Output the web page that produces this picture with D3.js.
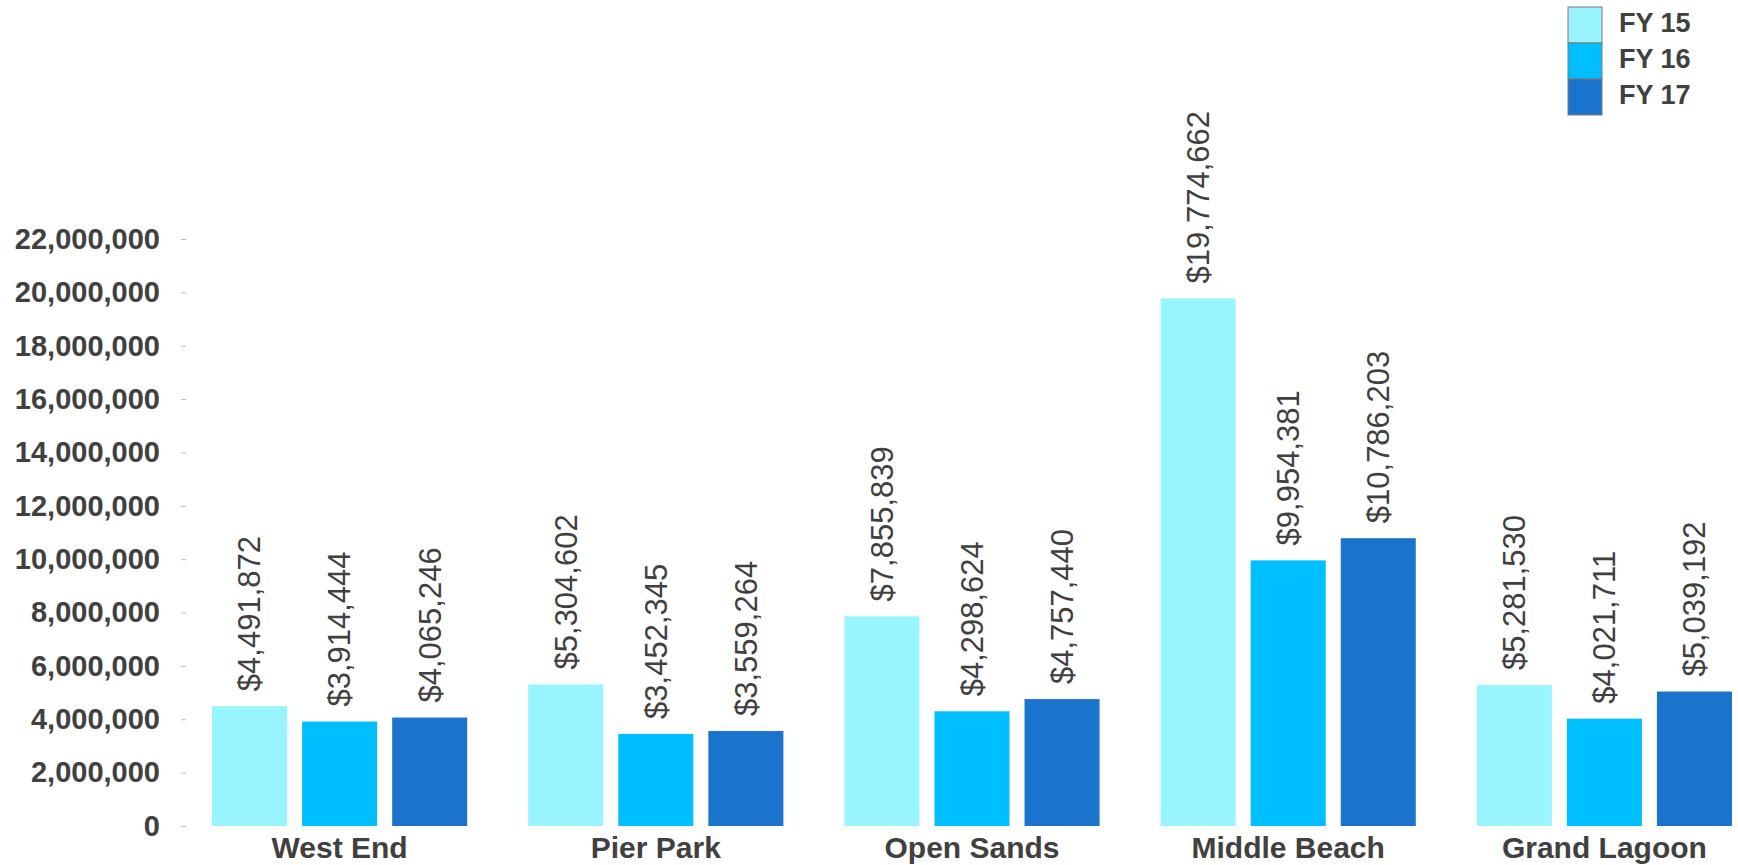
<!DOCTYPE html>
<html>
<head>
<meta charset="utf-8">
<script src="https://cdn.jsdelivr.net/npm/d3@7"></script>
<style>
  html, body { margin: 0; padding: 0; background: #fff; }
  svg text { font-family: "Liberation Sans", Arial, sans-serif; fill: #404040; }
</style>
</head>
<body>
<div id="chart-container"></div>
<script>
// Revenue per beach area, three fiscal years
const areas = ["West End", "Pier Park", "Open Sands", "Middle Beach", "Grand Lagoon"];
const series = ["FY 15", "FY 16", "FY 17"];
const fy15 = [4491872, 5304602, 7855839, 19774662, 5281530];
const fy16 = [3914444, 3452345, 4298624, 9954381, 4021711];
const fy17 = [4065246, 3559264, 4757440, 10786203, 5039192];
const colors = ["#98F4FF", "#00BFFF", "#1A74CD"];
const yTicks = [0, 2000000, 4000000, 6000000, 8000000, 10000000, 12000000,
                14000000, 16000000, 18000000, 20000000, 22000000];

const values = [fy15, fy16, fy17];
const rows = areas.map((a, i) => ({
    area: a,
    bars: series.map((s, j) => ({ key: s, value: values[j][i], color: colors[j] }))
}));

const width = 1738, height = 865;

const svg = d3.select("#chart-container").append("svg")
    .attr("width", width)
    .attr("height", height);

// Scales
const x0 = d3.scaleBand()
    .domain(areas)
    .range([182, 1762])
    .paddingInner(0.193)
    .paddingOuter(0.095);

const x1 = d3.scaleBand()
    .domain(series)
    .range([0, x0.bandwidth()])
    .paddingInner(0.1667)
    .paddingOuter(0);

const y = d3.scaleLinear()
    .domain([0, 22000000])
    .range([826, 239]);

// Y axis: small grey ticks, no domain line
const yAxis = svg.append("g")
    .attr("transform", "translate(186,0)")
    .call(d3.axisLeft(y).tickValues(yTicks).tickSize(5).tickPadding(21)
        .tickFormat(d3.format(",")));
yAxis.select(".domain").remove();
yAxis.selectAll(".tick line").attr("stroke", "#bbbbbb");
yAxis.selectAll(".tick text")
    .attr("font-size", 29)
    .attr("font-weight", "bold")
    .style("font-family", "'Liberation Sans', Arial, sans-serif")
    .attr("fill", "#404040");

// X axis: category names only
const xAxis = svg.append("g")
    .attr("transform", "translate(0,826)")
    .call(d3.axisBottom(x0).tickSize(0).tickPadding(11));
xAxis.select(".domain").remove();
xAxis.selectAll(".tick text")
    .attr("font-size", 30)
    .attr("font-weight", "bold")
    .style("font-family", "'Liberation Sans', Arial, sans-serif")
    .attr("fill", "#404040");

// Grouped bars
const groups = svg.selectAll(".group")
    .data(rows)
    .enter().append("g")
    .attr("class", "group")
    .attr("transform", d => `translate(${x0(d.area)},0)`);

groups.selectAll("rect")
    .data(d => d.bars)
    .enter().append("rect")
    .attr("x", d => x1(d.key))
    .attr("y", d => y(d.value))
    .attr("width", x1.bandwidth())
    .attr("height", d => y(0) - y(d.value))
    .attr("fill", d => d.color);

// Rotated value labels above each bar
const money = v => "$" + d3.format(",")(v);
groups.selectAll(".val")
    .data(d => d.bars)
    .enter().append("text")
    .attr("class", "val")
    .attr("transform", d => `translate(${x1(d.key) + x1.bandwidth() / 2},${y(d.value) - 15}) rotate(-90)`)
    .attr("dy", "0.35em")
    .attr("text-anchor", "start")
    .attr("font-size", 31)
    .text(d => money(d.value));

// Legend, stacked swatches top right
const legend = svg.append("g").attr("transform", "translate(1568,7)");
const ly = d3.scaleBand().domain(series).range([0, 108]);

legend.selectAll("rect")
    .data(series)
    .enter().append("rect")
    .attr("x", 0)
    .attr("y", d => ly(d))
    .attr("width", 34)
    .attr("height", ly.bandwidth())
    .attr("fill", (d, i) => colors[i])
    .attr("stroke", "#7a7a7a")
    .attr("stroke-width", 1);

legend.selectAll("text")
    .data(series)
    .enter().append("text")
    .attr("x", 51)
    .attr("y", d => ly(d) + ly.bandwidth() / 2 - 2)
    .attr("dy", "0.35em")
    .attr("font-size", 27)
    .attr("font-weight", "bold")
    .text(d => d);
</script>
</body>
</html>
